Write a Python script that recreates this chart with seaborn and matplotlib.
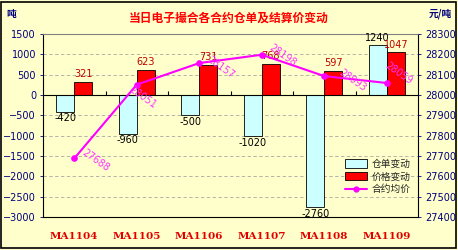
import numpy as np
import pandas as pd
import matplotlib
matplotlib.use("Agg")
import matplotlib.pyplot as plt
from matplotlib.patches import Rectangle, Patch
from matplotlib.lines import Line2D
import seaborn as sns

# Contract data
categories = ["MA1104", "MA1105", "MA1106", "MA1107", "MA1108", "MA1109"]
warrant_change = [-420, -960, -500, -1020, -2760, 1240]   # 仓单变动 (吨)
price_change = [321, 623, 731, 768, 597, 1047]            # 价格变动
avg_price = [27688, 28051, 28157, 28198, 28093, 28059]    # 合约均价 (元/吨)

series_names = ["仓单变动", "价格变动", "合约均价"]
left_ticks = list(range(-3000, 1501, 500))
right_ticks = list(range(27400, 28301, 100))

sns.set_theme(style="white")
plt.rcParams["font.family"] = ["DejaVu Sans", "Noto Sans CJK SC"]

BG = "#FFFFCC"
NAVY = "#000080"
CJK = ["Noto Sans CJK SC", "DejaVu Sans"]

fig = plt.figure(figsize=(4.58, 2.5), dpi=100, facecolor=BG)
ax = fig.add_axes([43 / 458, 1 - 217 / 250, 375 / 458, 183 / 250])
ax.set_facecolor(BG)

df = pd.DataFrame({
    "合约": categories * 2,
    "变动": warrant_change + price_change,
    "类型": [series_names[0]] * len(categories) + [series_names[1]] * len(categories),
})
palette = {series_names[0]: "#CCFFFF", series_names[1]: "#FF0000"}
sns.barplot(data=df, x="合约", y="变动", hue="类型", order=categories,
            hue_order=series_names[:2], palette=palette, width=0.58,
            edgecolor="black", linewidth=0.6, saturation=1, legend=False, ax=ax)

ax.set_xlim(-0.5, len(categories) - 0.5)
ax.set_ylim(left_ticks[0], left_ticks[-1])
ax.set_yticks(left_ticks)
ax.yaxis.grid(True, linestyle=(0, (4, 3)), color="#A8A8A0", lw=0.6)
ax.set_axisbelow(True)
ax.set_xlabel("")
ax.set_ylabel("")

# zero line with category dividers
ax.axhline(0, color="black", lw=0.8, zorder=3)
ax.vlines(np.arange(len(categories) - 1) + 0.5, 0, 100, color="black", lw=0.8, zorder=3)

# bar value labels
ax.bar_label(ax.containers[0], fmt="%d", padding=1, fontsize=7, color="black")
ax.bar_label(ax.containers[1], fmt="%d", padding=2, fontsize=7, color="#C00000")

ax.tick_params(axis="y", colors=NAVY, labelsize=7, length=2, width=0.6, pad=3)
for lab in ax.get_yticklabels():
    lab.set_color(NAVY)
ax.tick_params(axis="x", length=0, pad=11)
ax.set_xticks(range(len(categories)))
ax.set_xticklabels(categories, fontsize=7.5, fontweight="bold",
                   family="DejaVu Serif", color="#E00000")
for side in ["left", "bottom", "right", "top"]:
    ax.spines[side].set_visible(True)
    ax.spines[side].set_color("black")
    ax.spines[side].set_linewidth(0.8)
ax.spines["top"].set_color("#808080")

# average price on the secondary axis
ax2 = ax.twinx()
x_pos = np.arange(len(categories))
sns.lineplot(x=x_pos, y=avg_price, color="#FF00FF", lw=1.5, marker="o",
             markersize=4, markeredgecolor="#FF00FF", ax=ax2)
ax2.set_ylim(right_ticks[0], right_ticks[-1])
ax2.set_yticks(right_ticks)
ax2.tick_params(axis="y", colors=NAVY, labelsize=7, length=2, width=0.6, pad=3)
ax2.set_ylabel("")
ax2.grid(False)
for side in ax2.spines:
    ax2.spines[side].set_visible(False)

# rotated price labels
label_offsets = [(21, -2), (6, -13), (21, -4), (21, -1), (28, -4), (12, 10)]
for xi, val, off in zip(x_pos, avg_price, label_offsets):
    ax2.annotate(f"{val}", (xi, val), xytext=off, textcoords="offset pixels",
                 rotation=-35, rotation_mode="anchor", ha="center", va="center",
                 fontsize=7, color="#FF33FF", zorder=5)

# legend
handles = [
    Patch(facecolor="#CCFFFF", edgecolor="black", lw=0.6),
    Patch(facecolor="#FF0000", edgecolor="black", lw=0.6),
    Line2D([], [], color="#FF00FF", lw=1.5, marker="o", markersize=3.5),
]
leg = ax2.legend(handles, series_names, loc="upper left",
                 bbox_to_anchor=(340 / 458, 1 - 154 / 250),
                 bbox_transform=fig.transFigure, frameon=False, borderpad=0,
                 handlelength=2.3, handleheight=0.9, handletextpad=0.5,
                 labelspacing=0.28, prop={"family": CJK, "size": 7})

# titles and unit labels
fig.text(0.5, 1 - 18 / 250, "当日电子撮合各合约仓单及结算价变动", ha="center",
         va="center", color="#FF0000", fontsize=8.5, fontweight="bold", family=CJK)
fig.text(6 / 458, 1 - 14 / 250, "吨", ha="left", va="center", color=NAVY,
         fontsize=7, fontweight="bold", family=CJK)
fig.text(452 / 458, 1 - 14 / 250, "元/吨", ha="right", va="center", color=NAVY,
         fontsize=7, fontweight="bold", family=CJK)

# outer frame
fig.patches.append(Rectangle((1 / 458, 2 / 250), 455 / 458, 246 / 250,
                             transform=fig.transFigure, fill=False,
                             edgecolor="black", lw=1.2))

fig.savefig("out.png", dpi=100, facecolor=BG)
